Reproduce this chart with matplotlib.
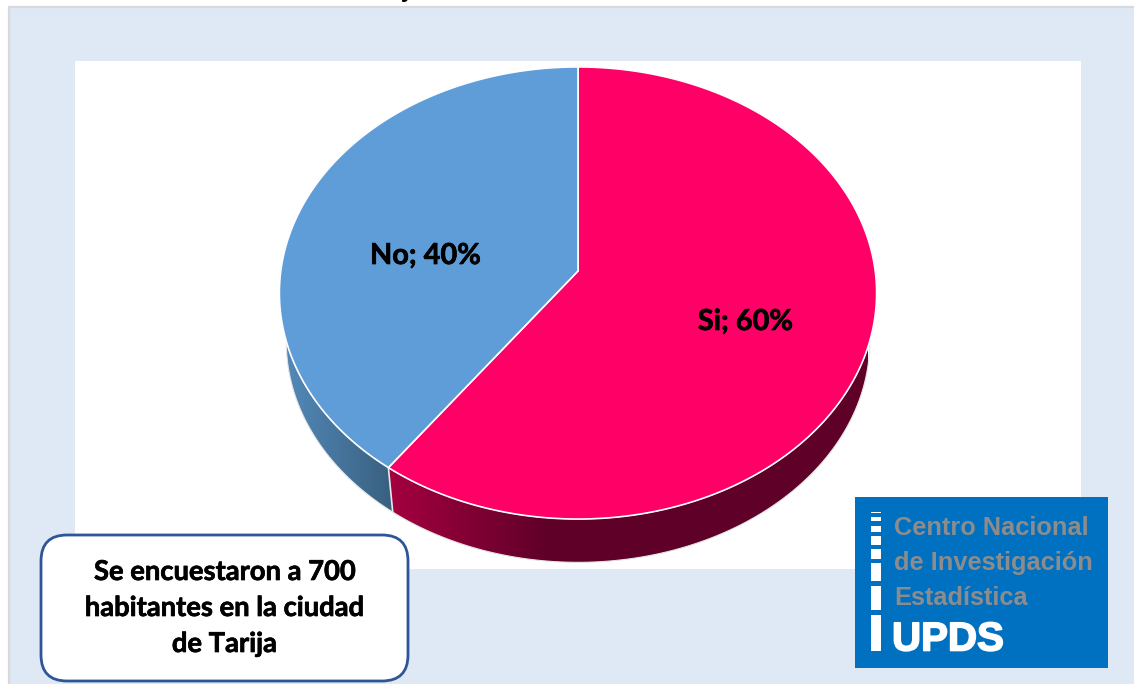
import numpy as np
import matplotlib
matplotlib.use("Agg")
import matplotlib.pyplot as plt
import matplotlib.patheffects as pe
from matplotlib.patches import Polygon, Rectangle, FancyBboxPatch
from matplotlib.colors import LinearSegmentedColormap

categories = ["Si", "No"]
shares = [60, 40]
top_colors = ["#FF0066", "#5F9DD9"]
side_grads = [["#A4003F", "#5F0028", "#5F0028", "#5F0028"], ["#5389B9", "#38607F"]]
side_ranges = [(389, 868), (285, 393)]
note_lines = ["Se encuestaron a 700", "habitantes en la ciudad", "de Tarija"]
logo_lines = ["Centro Nacional", "de Investigación", "Estadística"]
logo_org = "UPDS"
logo_bars = [(512.3, 513.3), (516.7, 521.3), (525.7, 532.3), (536.3, 545),
             (549, 559), (563.3, 580.7), (585.7, 610), (614.7, 650.7)]

LF = ["Lato", "DejaVu Sans"]
BOLDER = [pe.withStroke(linewidth=0.5, foreground="black")]

fig = plt.figure(figsize=(11.34, 6.84), dpi=100, facecolor="white")
ax = fig.add_axes([0, 0, 1, 1])
ax.set_xlim(0, 1134)
ax.set_ylim(684, 0)
ax.axis("off")

ax.add_patch(Rectangle((8.5, 6.5), 1130, 680, fc="#DEE9F5", ec="#D9D9DC", lw=1.6, zorder=0))
ax.add_patch(Rectangle((75, 61), 1006, 508, fc="white", ec="none", zorder=1))
ax.text(406, -10, "j", fontsize=19, fontweight="bold", family=LF, ha="center", va="center",
        color="black", zorder=1)


def project(theta, cx=578.0, cy=271.0, a=297.2, b=223.9, k=0.0973, s=1.0, dy=0.0):
    """Perspective image of a unit circle; theta clockwise from the top, in degrees."""
    t = np.radians(theta)
    u, v = np.sin(t), np.cos(t)
    d = 1 + k * v
    return cx + s * a * u / d, cy + dy - s * b * v / d


def arc(t0, t1, **kw):
    th = np.linspace(t0, t1, 300)
    x, y = project(th, **kw)
    return np.column_stack([x, y])


LOWER = dict(s=0.977, dy=49.0)
edges = np.concatenate([[0], np.cumsum(shares)]) * 3.6

for i, (c, val) in enumerate(zip(categories, shares)):
    t0, t1 = edges[i], edges[i + 1]
    poly = np.vstack([arc(t0, t1), arc(t0, t1, **LOWER)[::-1]])
    clip = Polygon(poly, closed=True, transform=ax.transData, fc="none", ec="none")
    ax.add_patch(clip)
    cmap = LinearSegmentedColormap.from_list("g", side_grads[i])
    grad = np.linspace(0, 1, 256).reshape(1, -1)
    xa, xb = side_ranges[i]
    im = ax.imshow(grad, cmap=cmap, extent=(xa, xb, 600, 50), aspect="auto", zorder=2)
    im.set_clip_path(clip)

ax.set_xlim(0, 1134)
ax.set_ylim(684, 0)

p = arc(0, 360, **LOWER)
ax.plot(p[:, 0], p[:, 1], color="#E4E4E4", lw=0.8, zorder=2.5)
xa, ya = project(edges[1])
xb, yb = project(edges[1], **LOWER)
ax.plot([xa, xb], [ya, yb], color="#E8E8E8", lw=1.2, zorder=3)

apex = (578.0, 271.0)
for i, c in enumerate(top_colors):
    pts = np.vstack([[apex], arc(edges[i], edges[i + 1])])
    ax.add_patch(Polygon(pts, closed=True, fc=c, ec="white", lw=1.2, joinstyle="round", zorder=4))
outer = arc(0, 360)
ax.plot(outer[:, 0], outer[:, 1], color="#DDDDDD", lw=0.6, zorder=3.5)

label_pos = [(745.5, 322), (425.5, 256)]
for c, v, (x, y) in zip(categories, shares, label_pos):
    ax.text(x, y, f"{c}; {v}%", fontsize=20.8, fontweight="bold", family=LF,
            ha="center", va="center", color="black", zorder=5, path_effects=BOLDER)

# note box
ax.add_patch(FancyBboxPatch((41 + 26, 535 + 26), 367 - 52, 146 - 52,
                            boxstyle="round,pad=26,rounding_size=26",
                            fc="white", ec="#2F5597", lw=2.0, zorder=6))
for line, yb2 in zip(note_lines, [580, 616, 652]):
    ax.text(224.5, yb2, line, fontsize=19.7, fontweight="bold", family=LF, ha="center",
            va="baseline", color="black", zorder=7, path_effects=BOLDER)

# logo
ax.add_patch(Rectangle((855, 497), 253, 171, fc="#0070C0", ec="none", zorder=6))
for y0, y1 in logo_bars:
    ax.add_patch(Rectangle((871, y0), 10, y1 - y0, fc="white", ec="none", zorder=7))
NF = ["Liberation Sans"]
for line, yb2 in zip(logo_lines, [535, 570, 605]):
    ax.text(894, yb2, line, fontsize=18.3, family=NF, fontweight="bold", color="#8C8C8C",
            ha="left", va="baseline", zorder=7)
ax.text(892, 650.5, logo_org, fontsize=29, family=NF, fontweight="bold",
        color="white", ha="left", va="baseline", zorder=7,
        path_effects=[pe.withStroke(linewidth=1.2, foreground="white")])

fig.savefig("out.png", dpi=100)
